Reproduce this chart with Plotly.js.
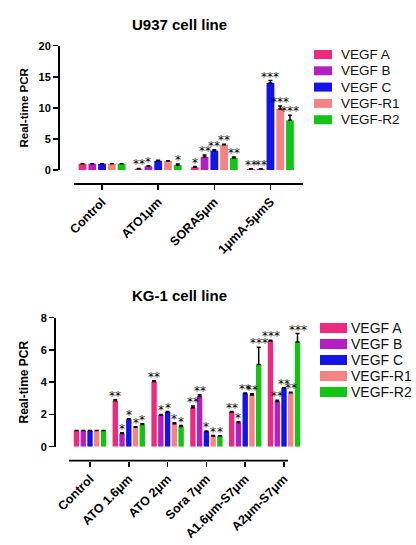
<!DOCTYPE html>
<html>
<head>
<meta charset="utf-8">
<script src="https://cdn.plot.ly/plotly-3.0.1.min.js"></script>
<style>html,body{margin:0;padding:0;background:#fff;}#chart{width:416px;height:545px;}</style>
</head>
<body>
<div id="chart"></div>
<script>
// ---------- data ----------
const seriesNames = ['VEGF A', 'VEGF B', 'VEGF C', 'VEGF-R1', 'VEGF-R2'];

// U937 cell line
const topCategories = ['Control', 'ATO1μm', 'SORA5μm', '1μmA-5μmS'];
const topVegfA  = [1, 0.2, 0.45, 0.15];
const topVegfB  = [1, 0.6, 2.1, 0.15];
const topVegfC  = [1, 1.5, 3.1, 14.0];
const topVegfR1 = [1, 1.45, 4.05, 9.8];
const topVegfR2 = [1, 0.8, 1.95, 8.0];
const topErrA  = [0, 0.05, 0.1, 0.05];
const topErrB  = [0, 0.1, 0.3, 0.05];
const topErrC  = [0, 0.08, 0.15, 0.4];
const topErrR1 = [0, 0.05, 0.1, 0.5];
const topErrR2 = [0, 0.15, 0.15, 0.8];
const topSigA  = ['', '**', '*', '**'];
const topSigB  = ['', '*', '**', '**'];
const topSigC  = ['', '', '**', '***'];
const topSigR1 = ['', '', '**', '***'];
const topSigR2 = ['', '*', '**', '***'];

// KG-1 cell line
const botCategories = ['Control', 'ATO 1.6μm', 'ATO 2μm', 'Sora 7μm', 'A1.6μm-S7μm', 'A2μm-S7μm'];
const botVegfA  = [1, 2.85, 4.05, 2.42, 2.15, 6.55];
const botVegfB  = [1, 0.82, 1.97, 3.12, 1.5, 2.8];
const botVegfC  = [1, 1.7, 2.15, 0.95, 3.3, 3.63];
const botVegfR1 = [1, 1.2, 1.43, 0.67, 3.2, 3.35];
const botVegfR2 = [1, 1.38, 1.25, 0.66, 5.1, 6.5];
const botErrA  = [0, 0.06, 0.04, 0.1, 0.03, 0.05];
const botErrB  = [0, 0.04, 0.03, 0.1, 0.05, 0.08];
const botErrC  = [0, 0.04, 0.03, 0.03, 0.03, 0.03];
const botErrR1 = [0, 0.04, 0.05, 0.02, 0.08, 0.03];
const botErrR2 = [0, 0.05, 0.06, 0.02, 1.07, 0.52];
const botSigA  = ['', '**', '**', '**', '**', '***'];
const botSigB  = ['', '*', '*', '**', '*', '**'];
const botSigC  = ['', '*', '*', '*', '**', '**'];
const botSigR1 = ['', '*', '*', '*', '**', '**'];
const botSigR2 = ['', '*', '*', '*', '***', '***'];

// ---------- styles ----------
const colors = ['#EC2A7E', '#B41FC4', '#1414E6', '#F58383', '#14C414'];
const FONT = 'Liberation Sans, Arial, sans-serif';
const W = 416, H = 545;
const BARGAP = 0.13, BARGROUPGAP = 0.2;
const px = v => v / W;
const py = v => (H - v) / H;

const topVals = [topVegfA, topVegfB, topVegfC, topVegfR1, topVegfR2];
const topErrs = [topErrA, topErrB, topErrC, topErrR1, topErrR2];
const topSigs = [topSigA, topSigB, topSigC, topSigR1, topSigR2];
const botVals = [botVegfA, botVegfB, botVegfC, botVegfR1, botVegfR2];
const botErrs = [botErrA, botErrB, botErrC, botErrR1, botErrR2];
const botSigs = [botSigA, botSigB, botSigC, botSigR1, botSigR2];

const traces = [];
const annotations = [];
const shapes = [];

function addSet(cats, vals, errs, sigs, xa, ya) {
  const n = seriesNames.length;
  const slot = (1 - BARGAP) / n;
  vals.forEach((v, i) => {
    traces.push({
      type: 'bar', name: seriesNames[i], x: cats, y: v,
      xaxis: xa, yaxis: ya, showlegend: false,
      marker: {color: colors[i], line: {width: 0}},
      error_y: {type: 'data', array: errs[i], arrayminus: v.map(() => 0), symmetric: false,
                color: '#000', thickness: 1.5, width: 2},
      hoverinfo: 'x+y+name'
    });
    const off = -(1 - BARGAP) / 2 + (i + 0.5) * slot;
    sigs[i].forEach((s, j) => {
      if (!s) return;
      annotations.push({
        xref: xa, yref: ya, x: j + off, y: v[j] + errs[i][j],
        text: s, showarrow: false, xanchor: 'center', yanchor: 'bottom', yshift: -5,
        font: {family: 'DejaVu Sans, sans-serif', size: 12, color: '#000'}
      });
    });
  });
}

// manual legend (swatch + label), laid out in paper pixels
function addLegend(x0, w, h, yFirst, step, fontSize, textX) {
  seriesNames.forEach((name, i) => {
    const yc = yFirst + i * step;
    shapes.push({type: 'rect', xref: 'paper', yref: 'paper',
      x0: px(x0), x1: px(x0 + w), y0: py(yc + h / 2), y1: py(yc - h / 2),
      fillcolor: colors[i], line: {width: 0}});
    annotations.push({xref: 'paper', yref: 'paper', x: px(textX), y: py(yc), text: name,
      showarrow: false, xanchor: 'left', yanchor: 'middle',
      font: {family: FONT, size: fontSize, color: '#111'}});
  });
}

addSet(topCategories, topVals, topErrs, topSigs, 'x', 'y');
addSet(botCategories, botVals, botErrs, botSigs, 'x2', 'y2');
addLegend(314, 18, 9, 54.5, 16.3, 13.5, 339);
addLegend(320, 27, 10, 328, 16, 14, 349);

// bottom x-axis baseline (GraphPad-style, shorter than the bar span)
shapes.push({type: 'line', xref: 'paper', yref: 'paper',
  x0: px(69), x1: px(288), y0: py(460.7), y1: py(460.7), line: {color: '#000', width: 1.8}});

annotations.push({xref: 'paper', yref: 'paper', x: px(179), y: py(25), text: 'U937 cell line',
  showarrow: false, xanchor: 'center', yanchor: 'middle',
  font: {family: FONT, size: 15, weight: 'bold', color: '#000'}});
annotations.push({xref: 'paper', yref: 'paper', x: px(179), y: py(295), text: 'KG-1 cell line',
  showarrow: false, xanchor: 'center', yanchor: 'middle',
  font: {family: FONT, size: 15, weight: 'bold', color: '#000'}});

const axisCommon = {
  showline: true, linecolor: '#000', linewidth: 1.8, ticks: 'outside', ticklen: 5,
  tickwidth: 1.5, tickcolor: '#000', showgrid: false, zeroline: false, fixedrange: true,
  tickfont: {family: FONT, size: 11, weight: 'bold', color: '#000'}
};
const xTickFont = {family: FONT, size: 12.5, weight: 'bold', color: '#000'};

const layout = {
  width: W, height: H, margin: {l: 0, r: 0, t: 0, b: 0},
  paper_bgcolor: '#fff', plot_bgcolor: 'rgba(0,0,0,0)',
  barmode: 'group', bargap: BARGAP, bargroupgap: BARGROUPGAP,
  showlegend: false,
  xaxis: Object.assign({}, axisCommon, {
    type: 'category', domain: [px(74), px(303)], range: [-0.5, 3.58],
    anchor: 'free', position: py(183), tickangle: -45, tickfont: xTickFont
  }),
  yaxis: Object.assign({}, axisCommon, {
    domain: [py(170), py(45.7)], range: [0, 20], dtick: 5,
    anchor: 'free', position: px(58),
    title: {text: 'Real-time PCR', standoff: 6, font: {family: FONT, size: 11.5, weight: 'bold', color: '#000'}}
  }),
  xaxis2: Object.assign({}, axisCommon, {
    type: 'category', domain: [px(70.6), px(303.4)], range: [-0.5, 5.5], showline: false,
    anchor: 'free', position: py(460.7), tickangle: -45, tickfont: xTickFont
  }),
  yaxis2: Object.assign({}, axisCommon, {
    domain: [py(446.7), py(317.7)], range: [0, 8], dtick: 2,
    anchor: 'free', position: px(54),
    title: {text: 'Real-time PCR', standoff: 8, font: {family: FONT, size: 12, weight: 'bold', color: '#000'}}
  }),
  shapes: shapes,
  annotations: annotations
};

Plotly.newPlot('chart', traces, layout, {displayModeBar: false, staticPlot: true});
</script>
</body>
</html>
